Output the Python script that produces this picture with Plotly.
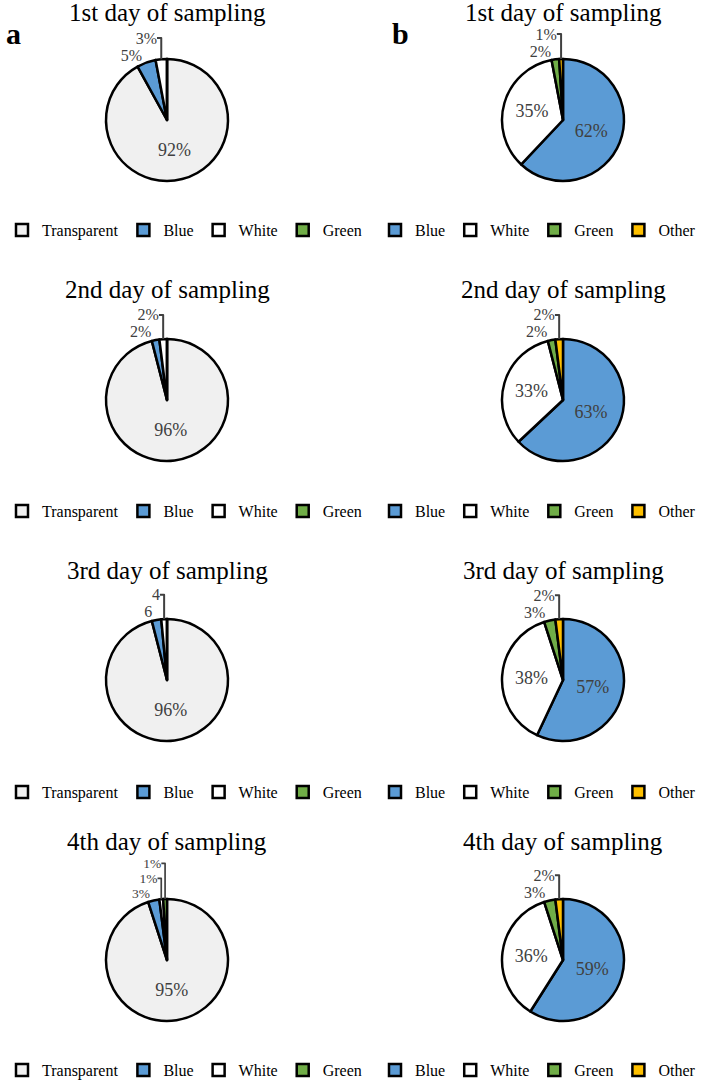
import plotly.graph_objects as go

# ---------------- data ----------------
titles = ["1st day of sampling", "2nd day of sampling", "3rd day of sampling", "4th day of sampling"]

labels_a = ["Transparent", "Blue", "White", "Green"]
values_a = [
    [92, 5, 3, 0],
    [96, 2, 2, 0],
    [96, 2.5, 1.5, 0],
    [95, 3, 1, 1],
]
text_a = [
    ["92%", "5%", "3%", ""],
    ["96%", "2%", "2%", ""],
    ["96%", "6", "4", ""],
    ["95%", "3%", "1%", "1%"],
]

labels_b = ["Blue", "White", "Green", "Other"]
values_b = [
    [62, 35, 2, 1],
    [63, 33, 2, 2],
    [57, 38, 3, 2],
    [59, 36, 3, 2],
]
text_b = [
    ["62%", "35%", "2%", "1%"],
    ["63%", "33%", "2%", "2%"],
    ["57%", "38%", "3%", "2%"],
    ["59%", "36%", "3%", "2%"],
]

colors_a = ["#F0F0F0", "#5B9BD5", "#FFFFFF", "#70AD47"]
colors_b = ["#5B9BD5", "#FFFFFF", "#70AD47", "#FFC000"]

# ---------------- layout constants ----------------
W, H = 701, 1081
FONT = "Liberation Serif"
R = 61
col_cx = [167, 563]
row_cy = [120, 400, 680, 960]
title_y = [12, 289, 570, 841]
legend_y = [230, 511, 792, 1070]
legend_x = [(2, "left"), (701, "right")]

fig = go.Figure()

def dom(cx, cy):
    return dict(x=[(cx - R) / W, (cx + R) / W],
                y=[1 - (cy + R) / H, 1 - (cy - R) / H])

legend_layouts = {}
n = 0
for col, (labels, values, texts, colors) in enumerate(
        [(labels_a, values_a, text_a, colors_a), (labels_b, values_b, text_b, colors_b)]):
    for row in range(4):
        n += 1
        lname = "legend" if n == 1 else f"legend{n}"
        vals = values[row]
        # invisible suffix keeps each chart's legend entries separate
        labs = [lab + "\u200b" * n for lab in labels]
        tpos = ["inside" if v >= 10 else "outside" for v in vals]
        osize = 13.5 if (col == 0 and row == 3) else 16
        fig.add_trace(go.Pie(
            labels=labs, values=vals, text=texts[row],
            textinfo="text", textposition=tpos,
            insidetextorientation="horizontal",
            sort=False, direction="clockwise", rotation=0,
            marker=dict(colors=colors, line=dict(color="black", width=2.5)),
            textfont=dict(family=FONT, size=18, color="#404040"),
            outsidetextfont=dict(family=FONT, size=osize, color="#404040"),
            domain=dom(col_cx[col], row_cy[row]),
            legend=lname, showlegend=True, hoverinfo="label+percent",
        ))
        lx, lanchor = legend_x[col]
        legend_layouts[lname] = dict(
            orientation="h", x=lx / W, xanchor=lanchor,
            y=1 - legend_y[row] / H, yanchor="middle",
            font=dict(family=FONT, size=16, color="black"),
            bgcolor="rgba(0,0,0,0)", itemwidth=30, tracegroupgap=0,
        )
        fig.add_annotation(
            text=titles[row], x=col_cx[col] / W, y=1 - title_y[row] / H,
            xref="paper", yref="paper", xanchor="center", yanchor="middle",
            showarrow=False, font=dict(family=FONT, size=25, color="black"),
        )

fig.add_annotation(text="<b>a</b>", x=4 / W, y=1 - 33 / H, xref="paper", yref="paper",
                   xanchor="left", yanchor="middle", showarrow=False,
                   font=dict(family=FONT, size=30, color="black"))
fig.add_annotation(text="<b>b</b>", x=390 / W, y=1 - 33 / H, xref="paper", yref="paper",
                   xanchor="left", yanchor="middle", showarrow=False,
                   font=dict(family=FONT, size=30, color="black"))

fig.update_layout(
    width=W, height=H, margin=dict(l=0, r=0, t=0, b=0, autoexpand=False),
    paper_bgcolor="white", plot_bgcolor="white",
    font=dict(family=FONT, color="black"),
    **legend_layouts,
)

# remove the page's default body margin so the figure fills the window exactly
fig.write_html("out.html", config={"displayModeBar": False},
               post_script="document.body.style.margin='0';")
